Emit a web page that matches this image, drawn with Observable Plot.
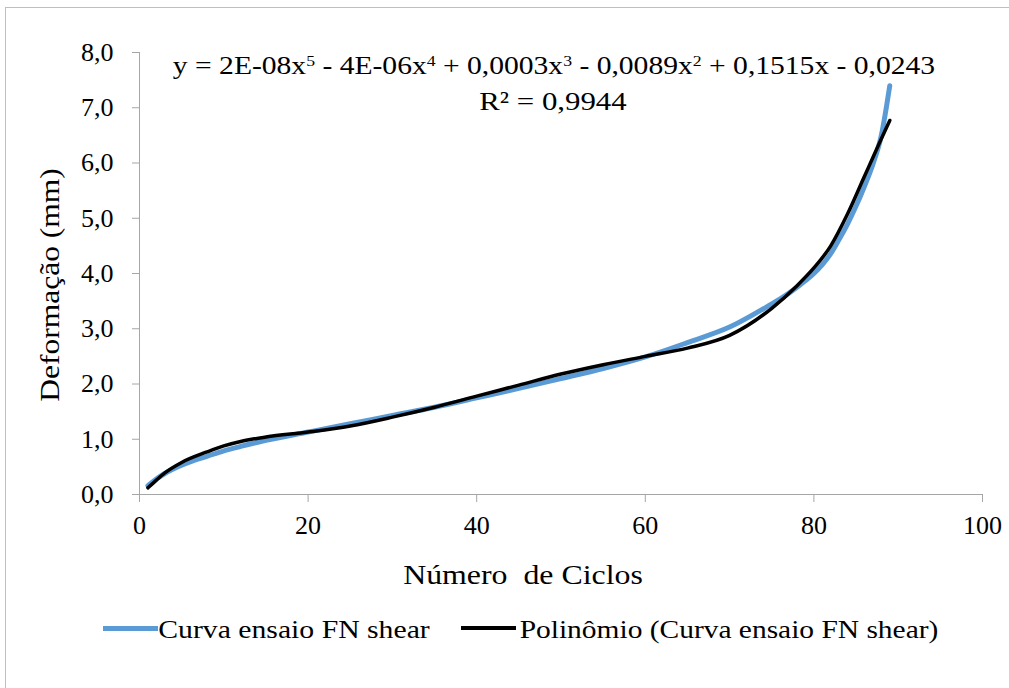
<!DOCTYPE html>
<html>
<head>
<meta charset="utf-8">
<script src="https://cdn.jsdelivr.net/npm/d3@7"></script>
<script src="https://cdn.jsdelivr.net/npm/@observablehq/plot@0.6"></script>
<style>
  html, body { margin: 0; padding: 0; background: #fff; }
  #wrap { position: relative; width: 1009px; height: 688px; overflow: hidden; font-family: "Liberation Serif", Tinos, "DejaVu Serif", serif; color: #000; }
  #border { position: absolute; left: 5px; top: 7px; width: 1020px; height: 700px; border: 1px solid #bfbfbf; box-sizing: border-box; }
  #chart { position: absolute; left: 0; top: 0; }
  .lbl { position: absolute; white-space: pre; line-height: 1; }
  .lbl sup { font-size: 0.6em; vertical-align: 0; position: relative; top: -0.5em; }
  .sw { position: absolute; height: 0; }
</style>
</head>
<body>
<div id="wrap">
  <div id="border"></div>
  <div id="chart"></div>
</div>
<script>
// Data
const ciclos = [1, 2, 3, 4, 5, 6, 8, 10, 12, 15, 20, 25, 30, 35, 40, 45, 50, 55, 60, 65, 70, 75, 76, 77, 78, 79, 80, 81, 82, 83, 84, 85, 86, 87, 88, 89];
const deformacao = [0.16, 0.28, 0.38, 0.46, 0.53, 0.59, 0.69, 0.79, 0.87, 0.98, 1.13, 1.28, 1.43, 1.58, 1.75, 1.92, 2.10, 2.28, 2.49, 2.75, 3.03, 3.45, 3.54, 3.64, 3.75, 3.87, 4.00, 4.16, 4.36, 4.62, 4.90, 5.22, 5.58, 5.98, 6.50, 7.40];
const ciclosPoli = [1, 2, 3, 5, 8, 10, 12, 15, 20, 25, 30, 35, 40, 45, 50, 55, 60, 65, 70, 75, 78, 80, 82, 84, 86, 87, 88, 89];
const deformacaoPoli = [0.12, 0.26, 0.39, 0.58, 0.77, 0.88, 0.96, 1.04, 1.13, 1.24, 1.40, 1.58, 1.78, 1.98, 2.18, 2.35, 2.50, 2.65, 2.88, 3.37, 3.78, 4.10, 4.50, 5.08, 5.76, 6.10, 6.44, 6.77];
const xTicks = [0, 20, 40, 60, 80, 100];
const yTicks = [0, 1, 2, 3, 4, 5, 6, 7, 8];
const seriesNames = ["Curva ensaio FN shear", "Polinômio (Curva ensaio FN shear)"];
const seriesColors = ["#5B9BD5", "#000000"];
const xTitle = "Número  de Ciclos";
const yTitle = "Deformação (mm)";
const equationLine1 = "y = 2E-08x<sup>5</sup> - 4E-06x<sup>4</sup> + 0,0003x<sup>3</sup> - 0,0089x<sup>2</sup> + 0,1515x - 0,0243";
const equationLine2 = "R² = 0,9944";

const serie = ciclos.map((c, i) => ({x: c, y: deformacao[i]}));
const poli = ciclosPoli.map((c, i) => ({x: c, y: deformacaoPoli[i]}));
const fmt = d => d.toFixed(1).replace(".", ",");
const axisColor = "#a6a6a6";
const serifFont = "'Liberation Serif', Tinos, 'DejaVu Serif', serif";

const chart = Plot.plot({
  width: 1009,
  height: 560,
  marginLeft: 139,
  marginRight: 27,
  marginTop: 52,
  marginBottom: 66,
  style: {fontFamily: serifFont, fontSize: "26px", color: "#000", background: "transparent", overflow: "visible"},
  x: {domain: [0, 100]},
  y: {domain: [0, 8]},
  marks: [
    Plot.axisX(xTicks, {tickSize: 8, tickPadding: 13, stroke: axisColor, fill: "#000", label: null, fontSize: 26, fontFamily: serifFont}),
    Plot.axisY(yTicks, {tickSize: 7, tickPadding: 19, tickFormat: fmt, stroke: axisColor, fill: "#000", label: null, fontSize: 26, fontFamily: serifFont}),
    Plot.ruleY([0], {stroke: axisColor, strokeWidth: 1}),
    Plot.ruleX([0], {stroke: axisColor, strokeWidth: 1}),
    Plot.line(serie, {x: "x", y: "y", stroke: seriesColors[0], strokeWidth: 5, curve: "monotone-x", strokeLinecap: "round"}),
    Plot.line(poli, {x: "x", y: "y", stroke: seriesColors[1], strokeWidth: 3.5, curve: "monotone-x", strokeLinecap: "round"})
  ]
});
document.getElementById("chart").appendChild(chart);

const wrap = document.getElementById("wrap");
// place a text centred at (cx, cy), stretched along its length to span `len` px
function label(html, cx, cy, size, len, rotate) {
  const el = document.createElement("span");
  el.className = "lbl";
  el.style.fontSize = size + "px";
  el.innerHTML = html;
  wrap.appendChild(el);
  const w = el.offsetWidth;
  const s = len / w;
  el.style.left = cx + "px";
  el.style.top = cy + "px";
  el.style.transform = `translate(-50%, -50%) rotate(${rotate || 0}deg) scaleX(${s})`;
  return el;
}
function swatch(x0, x1, cy, color, thick) {
  const el = document.createElement("div");
  el.className = "sw";
  el.style.left = x0 + "px";
  el.style.width = (x1 - x0) + "px";
  el.style.top = (cy - thick / 2) + "px";
  el.style.borderTop = thick + "px solid " + color;
  wrap.appendChild(el);
}

label(equationLine1, 554, 66, 26, 762);
label(equationLine2, 553, 102, 26, 147);
label(xTitle, 523, 575, 28, 240);
label(yTitle, 50, 285, 28, 234, -90);

swatch(103, 158, 628, seriesColors[0], 5);
label(seriesNames[0], 294, 630, 26, 272);
swatch(461, 516, 628, seriesColors[1], 4);
label(seriesNames[1], 728.5, 630, 26, 419);
</script>
</body>
</html>
